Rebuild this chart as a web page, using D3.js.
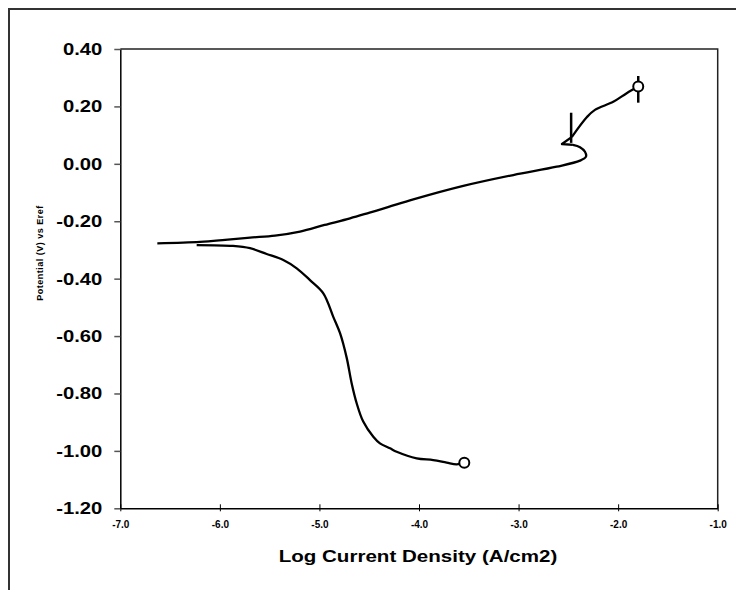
<!DOCTYPE html>
<html>
<head>
<meta charset="utf-8">
<script src="https://cdn.jsdelivr.net/npm/d3@7"></script>
<style>
  body { margin: 0; background: #fff; }
  text { font-family: "Liberation Sans", Arial, sans-serif; font-weight: bold; fill: #000; }
</style>
</head>
<body>
<script>
// Tafel scan: log current density vs potential
const xTicks = [-7, -6, -5, -4, -3, -2, -1];
const yTicks = [0.4, 0.2, 0, -0.2, -0.4, -0.6, -0.8, -1.0, -1.2];

// anodic branch (upper)
const anodicX = [-6.628, -6.200, -5.948, -5.697, -5.446, -5.195, -4.948, -4.693, -4.496, -4.312,
  -4.057, -3.555, -3.053, -2.617, -2.383, -2.323, -2.333, -2.383, -2.454, -2.564,
  -2.464, -2.313, -2.233, -2.049, -1.914, -1.798];
const anodicY = [-0.277, -0.272, -0.265, -0.257, -0.250, -0.236, -0.213, -0.190, -0.170, -0.151,
  -0.124, -0.077, -0.039, -0.010, 0.011, 0.025, 0.042, 0.058, 0.066, 0.069,
  0.094, 0.163, 0.188, 0.216, 0.246, 0.269];

// cathodic branch (lower)
const cathodicX = [-6.233, -5.868, -5.697, -5.530, -5.363, -5.228, -5.095, -4.961, -4.861, -4.793,
  -4.726, -4.676, -4.626, -4.560, -4.459, -4.392, -4.291, -4.224, -4.023, -3.857, -3.722, -3.622, -3.545];
const cathodicY = [-0.283, -0.286, -0.294, -0.314, -0.335, -0.364, -0.405, -0.451, -0.533, -0.590,
  -0.676, -0.765, -0.834, -0.898, -0.951, -0.974, -0.991, -1.003, -1.026, -1.032, -1.041, -1.047, -1.041];

// vertical marks [x, yTop, yBottom]
const markX = [-2.472, -1.798];
const markTop = [0.178, 0.306];
const markBottom = [0.073, 0.213];

// end points (open circles)
const endX = [-1.798, -3.545];
const endY = [0.269, -1.041];

const w = 736, h = 590;
const mLeft = 120.3, mRight = 717.7, mTop = 49, mBottom = 508.3;
const stretch = 1.19; // the original text is a bit wider than Arial

const svg = d3.select("body").append("svg")
  .attr("width", w)
  .attr("height", h);

// outer frame
svg.append("rect")
  .attr("x", 9).attr("y", 9)
  .attr("width", 760).attr("height", 620)
  .attr("fill", "none")
  .attr("stroke", "#333")
  .attr("stroke-width", 2);

const x = d3.scaleLinear().domain([-7, -1]).range([mLeft, mRight]);
const y = d3.scaleLinear().domain([-1.2, 0.4]).range([mBottom, mTop]);

// plot border (top & right)
svg.append("path")
  .attr("d", `M${mLeft},${mTop}H${mRight}V${mBottom}`)
  .attr("fill", "none")
  .attr("stroke", "#222")
  .attr("stroke-width", 1.5);

// y axis
const yAxis = svg.append("g")
  .attr("transform", `translate(${mLeft},0)`)
  .call(d3.axisLeft(y).tickValues(yTicks).tickSize(6).tickSizeOuter(0)
    .tickFormat(d => d.toFixed(2)));
yAxis.select(".domain").attr("stroke", "#000").attr("stroke-width", 1.5);
yAxis.selectAll(".tick line").attr("stroke", "#555").attr("stroke-width", 1.5);
yAxis.selectAll(".tick text")
  .attr("x", 0)
  .attr("transform", `translate(-18,0) scale(${stretch},1)`)
  .style("font-size", "17px")
  .style("font-family", "'Liberation Sans', Arial, sans-serif")
  .style("font-weight", "bold");

// x axis
const xAxis = svg.append("g")
  .attr("transform", `translate(0,${mBottom})`)
  .call(d3.axisBottom(x).tickValues(xTicks).tickSize(3).tickSizeOuter(0)
    .tickFormat(d => d.toFixed(1)));
xAxis.select(".domain").attr("stroke", "#000").attr("stroke-width", 1.5);
xAxis.selectAll(".tick line").attr("y1", -4).attr("y2", 3).attr("stroke", "#000");
xAxis.selectAll(".tick text")
  .attr("y", 20).attr("dy", 0)
  .style("font-size", "10px")
  .style("font-family", "'Liberation Sans', Arial, sans-serif")
  .style("font-weight", "bold");

// axis titles
svg.append("text")
  .attr("transform", `translate(418,562) scale(1.21,1)`)
  .attr("text-anchor", "middle")
  .style("font-size", "17px")
  .text("Log Current Density (A/cm2)");

svg.append("text")
  .attr("transform", "translate(43,253) rotate(-90)")
  .attr("text-anchor", "middle")
  .style("font-size", "9px")
  .style("letter-spacing", "0.5px")
  .text("Potential (V) vs Eref");

// curves
const line = d3.line().x(d => x(d[0])).y(d => y(d[1]));
const smooth = d3.line().x(d => x(d[0])).y(d => y(d[1])).curve(d3.curveCatmullRom.alpha(0.5));
const anodic = anodicX.map((v, i) => [v, anodicY[i]]);
const cathodic = cathodicX.map((v, i) => [v, cathodicY[i]]);

const curve = (pts, gen) => svg.append("path")
  .attr("d", gen(pts))
  .attr("fill", "none")
  .attr("stroke", "#000")
  .attr("stroke-width", 2.3)
  .attr("stroke-linejoin", "round");

curve(anodic.slice(0, 19), smooth);
curve(anodic.slice(18, 21), line);
curve(anodic.slice(20), smooth);
curve(cathodic, smooth);

// vertical marks
svg.selectAll("line.mark")
  .data(markX)
  .enter()
  .append("line")
  .attr("class", "mark")
  .attr("x1", d => x(d)).attr("x2", d => x(d))
  .attr("y1", (d, i) => y(markTop[i]))
  .attr("y2", (d, i) => y(markBottom[i]))
  .attr("stroke", "#000")
  .attr("stroke-width", 2.5);

// end circles
svg.selectAll("circle.end")
  .data(endX)
  .enter()
  .append("circle")
  .attr("class", "end")
  .attr("cx", d => x(d))
  .attr("cy", (d, i) => y(endY[i]))
  .attr("r", 5)
  .attr("fill", "#fff")
  .attr("stroke", "#000")
  .attr("stroke-width", 2);
</script>
</body>
</html>
